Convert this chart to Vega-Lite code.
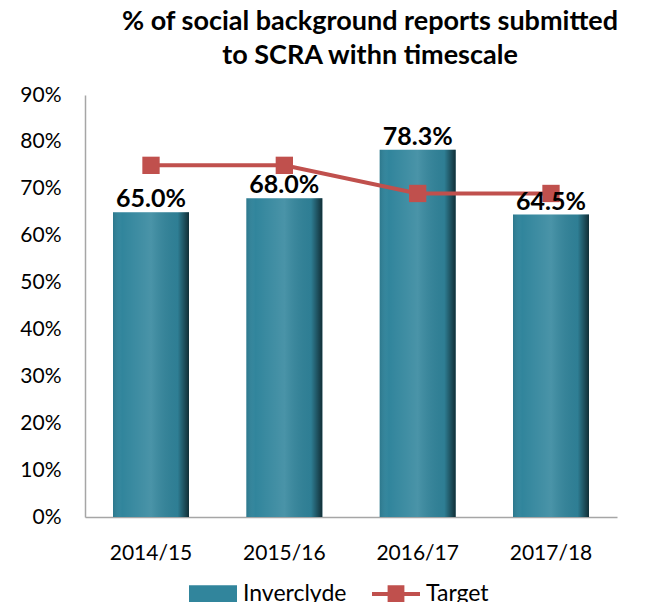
{
  "$schema": "https://vega.github.io/schema/vega-lite/v6.json",
  "width": 532,
  "height": 422,
  "padding": {"left": 19, "top": 8, "right": 5, "bottom": 5},
  "config": {
    "view": {"stroke": null},
    "font": "Lato",
    "axisY": {
      "grid": false,
      "ticks": false,
      "labelFontSize": 21,
      "labelColor": "#000000",
      "labelPadding": 24,
      "domainColor": "#a6a6a6",
      "domainWidth": 1.5,
      "labelFont": "Lato"
    },
    "axisX": {
      "labelAngle": 0,
      "labelFontSize": 21,
      "labelColor": "#000000",
      "labelPadding": 25,
      "ticks": false,
      "domainColor": "#a6a6a6",
      "domainWidth": 1.5,
      "labelFont": "Lato"
    }
  },
  "title": {
    "text": ["% of social background reports submitted", "to SCRA withn timescale"],
    "fontSize": 27,
    "font": "Lato",
    "fontWeight": "bold",
    "lineHeight": 34,
    "dx": 19,
    "offset": 14,
    "color": "#000000"
  },
  "data": {
    "values": [
      {"year": "2014/15", "inverclyde": 0.65, "target": 0.75},
      {"year": "2015/16", "inverclyde": 0.68, "target": 0.75},
      {"year": "2016/17", "inverclyde": 0.783, "target": 0.69},
      {"year": "2017/18", "inverclyde": 0.645, "target": 0.69}
    ]
  },
  "encoding": {
    "x": {
      "field": "year",
      "type": "nominal",
      "sort": null,
      "title": null,
      "scale": {"paddingInner": 0.43, "paddingOuter": 0.21}
    }
  },
  "layer": [
    {
      "mark": {"type": "bar"},
      "encoding": {
        "y": {
          "field": "inverclyde",
          "type": "quantitative",
          "title": null,
          "scale": {"domain": [0, 0.9]},
          "axis": {
            "format": ".0%",
            "values": [0, 0.1, 0.2, 0.3, 0.4, 0.5, 0.6, 0.7, 0.8, 0.9]
          }
        },
        "color": {
          "datum": "Inverclyde",
          "scale": {"domain": ["Inverclyde", "Target"], "range": ["#31859c", "#c0504d"]},
          "legend": {
            "orient": "none",
            "legendX": 104,
            "legendY": 475,
            "title": null,
            "direction": "horizontal",
            "labelFontSize": 23,
            "labelFont": "Lato",
            "labelColor": "#000000",
            "symbolSize": 2304,
            "symbolStrokeWidth": 0,
            "labelOffset": 6,
            "columnPadding": 25,
            "encode": {
              "symbols": {
                "update": {
                  "shape": {"signal": "datum.value === 'Target' ? 'M-1,-0.08H1V0.08H-1Z M-0.35,-0.36H0.35V0.36H-0.35Z' : 'M-1,-0.36H1V0.36H-1Z'"},
                  "fill": {"signal": "datum.value === 'Target' ? '#c0504d' : '#2f7f94'"},
                  "stroke": {"value": "transparent"},
                  "opacity": {"value": 1}
                }
              }
            }
          }
        }
      }
    },
    {
      "mark": {
        "type": "bar",
        "fill": {
          "gradient": "linear",
          "x1": 0, "y1": 0, "x2": 1, "y2": 0,
          "stops": [
            {"offset": 0, "color": "rgba(0,0,0,0.1)"},
            {"offset": 0.12, "color": "rgba(255,255,255,0)"},
            {"offset": 0.5, "color": "rgba(255,255,255,0.12)"},
            {"offset": 0.85, "color": "rgba(0,0,0,0.05)"},
            {"offset": 1, "color": "rgba(0,0,0,0.65)"}
          ]
        }
      },
      "encoding": {
        "y": {"field": "inverclyde", "type": "quantitative"}
      }
    },
    {
      "mark": {
        "type": "line",
        "strokeWidth": 4,
        "point": {"shape": "square", "size": 300, "filled": true, "opacity": 1}
      },
      "encoding": {
        "y": {"field": "target", "type": "quantitative"},
        "color": {"datum": "Target"}
      }
    },
    {
      "mark": {
        "type": "text",
        "baseline": "bottom",
        "dy": 0,
        "fontSize": 25,
        "fontWeight": "bold",
        "font": "Lato",
        "color": "#000000"
      },
      "encoding": {
        "y": {"field": "inverclyde", "type": "quantitative"},
        "text": {"field": "inverclyde", "type": "quantitative", "format": ".1%"}
      }
    }
  ]
}
